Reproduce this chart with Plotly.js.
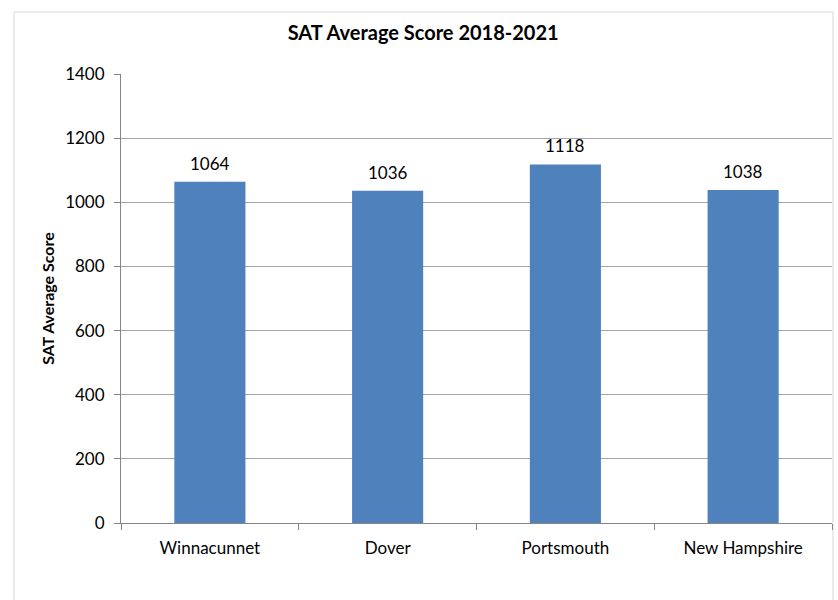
<!DOCTYPE html>
<html>
<head>
<meta charset="utf-8">
<script src="https://cdn.plot.ly/plotly-3.0.1.min.js"></script>
<style>html,body{margin:0;padding:0;background:#fff;}#chart{width:838px;height:600px;}</style>
</head>
<body>
<div id="chart"></div>
<script>
const categories = ["Winnacunnet", "Dover", "Portsmouth", "New Hampshire"];
const scores = [1064, 1036, 1118, 1038];
const yTicks = [0, 200, 400, 600, 800, 1000, 1200, 1400];

const font = "Lato, 'Open Sans', sans-serif";

const trace = {
  type: "bar",
  x: categories,
  y: scores,
  marker: {color: "#4F81BD"},
  hoverinfo: "x+y"
};

const labels = categories.map((c, i) => ({
  x: c, y: scores[i], xref: "x", yref: "y",
  text: String(scores[i]), showarrow: false,
  yanchor: "bottom", yshift: 6,
  font: {family: font, size: 17, color: "#000"}
}));

const layout = {
  width: 838, height: 600,
  margin: {l: 121, r: 6, t: 74, b: 77},
  paper_bgcolor: "#fff", plot_bgcolor: "#fff",
  bargap: 0.6,
  showlegend: false,
  title: {text: "<b>SAT Average Score 2018-2021</b>", font: {family: font, size: 20, color: "#000"}, x: 0.505, xanchor: "center", y: 0.945, yanchor: "middle"},
  xaxis: {
    type: "category",
    showgrid: false,
    showline: true, linecolor: "#868686", linewidth: 1,
    ticks: "outside", tickson: "boundaries", ticklen: 6, tickcolor: "#868686",
    ticklabelstandoff: 10,
    tickfont: {family: font, size: 17, color: "#000"},
    fixedrange: true
  },
  yaxis: {
    range: [0, 1400],
    tickvals: yTicks,
    ticktext: yTicks.map(String),
    showgrid: true, gridcolor: "#A6A6A6", gridwidth: 1,
    showline: true, linecolor: "#868686", linewidth: 1,
    ticks: "outside", ticklen: 6, tickcolor: "#868686",
    ticklabelstandoff: 6,
    tickfont: {family: font, size: 17, color: "#000"},
    zeroline: false,
    title: {text: "<b>SAT Average Score</b>", font: {family: font, size: 16, color: "#000"}, standoff: 6},
    fixedrange: true
  },
  annotations: labels,
  shapes: [{
    type: "rect", xref: "paper", yref: "paper",
    x0: -0.1505, x1: 1.0014, y0: -0.19, y1: 1.138,
    line: {color: "#D9D9D9", width: 1}, fillcolor: "rgba(0,0,0,0)", layer: "below"
  }]
};

Plotly.newPlot("chart", [trace], layout, {displayModeBar: false, staticPlot: true});
</script>
</body>
</html>
